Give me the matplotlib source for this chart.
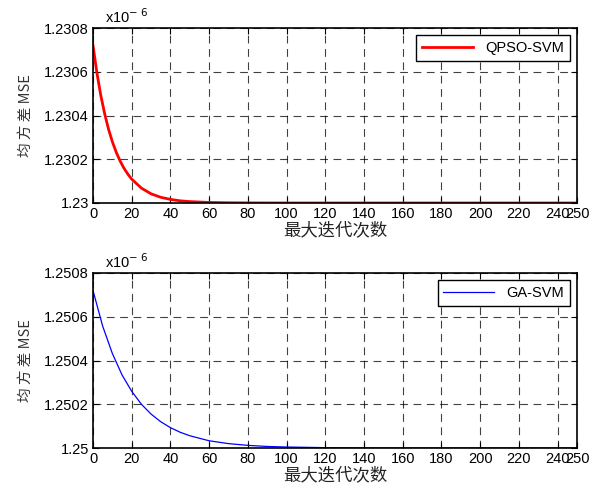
import matplotlib
matplotlib.use("Agg")
import matplotlib.pyplot as plt
from matplotlib.ticker import FuncFormatter

plt.rcParams['font.family'] = ['Liberation Sans', 'Noto Sans CJK SC', 'DejaVu Sans']

# QPSO-SVM (units of 1e-6)
qpso_iter = [0, 2, 4, 6, 8, 10, 12, 14, 16, 18, 20, 25, 30, 35, 40, 45, 50, 60, 70, 80, 100, 250]
qpso_mse = [1.23072, 1.230596, 1.230493, 1.230409, 1.230338, 1.230280, 1.230232, 1.230192,
            1.230159, 1.230132, 1.230109, 1.230068, 1.230042, 1.230026, 1.2300165, 1.230010,
            1.2300064, 1.2300025, 1.230001, 1.2300004, 1.23, 1.23]

# GA-SVM (units of 1e-6)
ga_iter = [0, 5, 10, 15, 20, 25, 30, 35, 40, 45, 50, 60, 70, 80, 90, 100, 120, 140, 160, 250]
ga_mse = [1.25072, 1.250557, 1.250432, 1.250334, 1.250259, 1.250200, 1.250155, 1.250120,
          1.250093, 1.250072, 1.250056, 1.250033, 1.250020, 1.250012, 1.250007, 1.2500045,
          1.2500016, 1.2500006, 1.2500002, 1.25]

xticks = [0, 20, 40, 60, 80, 100, 120, 140, 160, 180, 200, 220, 240, 250]
qpso_yticks = [1.23, 1.2302, 1.2304, 1.2306, 1.2308]
ga_yticks = [1.25, 1.2502, 1.2504, 1.2506, 1.2508]

fig = plt.figure(figsize=(5.95, 4.88), dpi=100)
W, H = 595, 488

def make_ax(top, bottom):
    return fig.add_axes([93 / W, 1 - bottom / H, (577 - 93) / W, (bottom - top) / H])

ax1 = make_ax(28, 203)
ax2 = make_ax(273, 448)

fmt = FuncFormatter(lambda v, p: ('%.4f' % v).rstrip('0').rstrip('.'))

for ax, xs, ys, color, lw, label, yt in [
        (ax1, qpso_iter, qpso_mse, 'red', 2.0, 'QPSO-SVM', qpso_yticks),
        (ax2, ga_iter, ga_mse, 'blue', 0.9, 'GA-SVM', ga_yticks)]:
    ax.plot(xs, ys, color=color, lw=lw, label=label)
    ax.set_xlim(0, 250)
    ax.set_ylim(yt[0], yt[-1])
    ax.set_xticks(xticks)
    ax.set_yticks(yt)
    ax.yaxis.set_major_formatter(fmt)
    ax.grid(True, color='black', linestyle=(0, (7, 5)), lw=0.8, alpha=0.75)
    ax.tick_params(direction='in', top=True, right=True, labelsize=10.5, length=4, pad=3)
    for s in ax.spines.values():
        s.set_linewidth(1.2)
    leg = ax.legend(loc='upper right', fancybox=False, edgecolor='black', framealpha=1,
                    fontsize=10.5, handlelength=3.5, borderpad=0.4,
                    borderaxespad=0.5)
    leg.get_frame().set_linewidth(1.0)
    ax.set_xlabel('最大迭代次数', family=['Noto Sans CJK SC'], fontsize=12.5,
                  labelpad=0, color='#222222')
    ax.set_ylabel('均 方 差 MSE', family=['Noto Sans CJK SC', 'Liberation Sans'],
                  fontsize=10.5, labelpad=8, color='#333333')
    ax.text(0.025, 1.01, 'x10$^{-\\ 6}$', transform=ax.transAxes, fontsize=10.5,
            ha='left', va='bottom')

fig.savefig('out.png', dpi=100)
